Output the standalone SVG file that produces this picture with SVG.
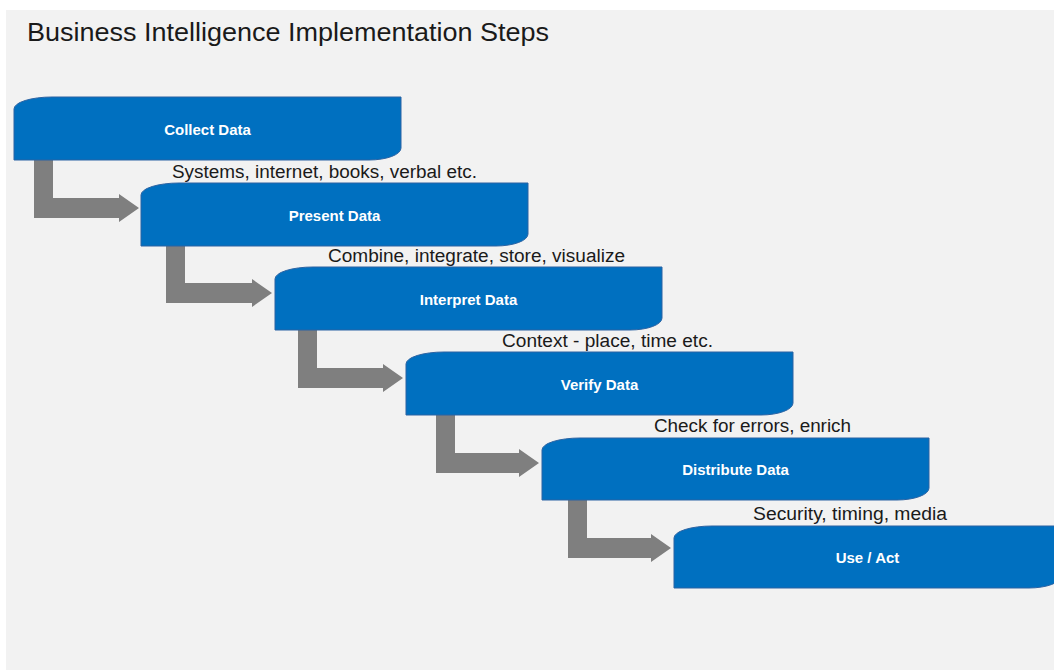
<svg xmlns="http://www.w3.org/2000/svg" width="1054" height="670" viewBox="0 0 1054 670">
  <defs>
    <style>
      .step { fill: #0070c0; stroke: #2b63a3; stroke-width: 1; }
      .step-label { font-family: "Liberation Sans", Arial, sans-serif; font-weight: bold; font-size: 15px; fill: #ffffff; text-anchor: middle; }
      .note { font-family: "Liberation Sans", Arial, sans-serif; font-size: 18px; fill: #1a1a1a; }
      .bend { fill: #7f7f7f; }
    </style>
  </defs>

  <!-- slide background -->
  <rect x="0" y="0" width="1054" height="670" fill="#ffffff"/>
  <rect x="6" y="10" width="1048" height="660" fill="#f2f2f2"/>

  <text x="27" y="41" font-family="Liberation Sans, Arial, sans-serif" font-size="26" fill="#1a1a1a" textLength="522" lengthAdjust="spacingAndGlyphs">Business Intelligence Implementation Steps</text>

  <!-- bent arrows linking consecutive steps -->
  <g id="connectors">
    <path class="bend" d="M34,158 H53 V198 H119 V194 L139,208 L119,222 V218 H34 Z"/>
    <path class="bend" d="M166,244 H185 V283 H252 V279 L272,293 L252,307 V303 H166 Z"/>
    <path class="bend" d="M298,328 H317 V368 H383 V364 L403,378 L383,392 V388 H298 Z"/>
    <path class="bend" d="M436,413 H455 V453 H519 V449 L539,463 L519,477 V473 H436 Z"/>
    <path class="bend" d="M568,498 H587 V538 H651 V534 L671,548 L651,562 V558 H568 Z"/>
  </g>

  <!-- step boxes: rounded top-left and bottom-right corners -->
  <g id="collect-data">
    <path class="step" d="M14,109 A38 12 0 0 1 52,97 H401 V148 A32 12 0 0 1 369,160 H14 Z"/>
    <text class="step-label" x="207.5" y="135">Collect Data</text>
  </g>
  <g id="present-data">
    <path class="step" d="M141,195 A38 12 0 0 1 179,183 H528 V234 A32 12 0 0 1 496,246 H141 Z"/>
    <text class="step-label" x="334.5" y="221">Present Data</text>
  </g>
  <g id="interpret-data">
    <path class="step" d="M275,279 A38 12 0 0 1 313,267 H662 V318 A32 12 0 0 1 630,330 H275 Z"/>
    <text class="step-label" x="468.5" y="305">Interpret Data</text>
  </g>
  <g id="verify-data">
    <path class="step" d="M406,364 A38 12 0 0 1 444,352 H793 V403 A32 12 0 0 1 761,415 H406 Z"/>
    <text class="step-label" x="599.5" y="390">Verify Data</text>
  </g>
  <g id="distribute-data">
    <path class="step" d="M542,450 A38 12 0 0 1 580,438 H929 V488 A32 12 0 0 1 897,500 H542 Z"/>
    <text class="step-label" x="735.5" y="475">Distribute Data</text>
  </g>
  <g id="use-act">
    <path class="step" d="M674,538 A38 12 0 0 1 712,526 H1061 V576 A32 12 0 0 1 1029,588 H674 Z"/>
    <text class="step-label" x="867.5" y="563">Use / Act</text>
  </g>

  <!-- notes between steps -->
  <g id="notes">
    <text class="note" x="172" y="178" textLength="305" lengthAdjust="spacingAndGlyphs">Systems, internet, books, verbal etc.</text>
    <text class="note" x="328" y="262" textLength="297" lengthAdjust="spacingAndGlyphs">Combine, integrate, store, visualize</text>
    <text class="note" x="502" y="347" textLength="211" lengthAdjust="spacingAndGlyphs">Context - place, time etc.</text>
    <text class="note" x="654" y="432" textLength="197" lengthAdjust="spacingAndGlyphs">Check for errors, enrich</text>
    <text class="note" x="753" y="520" textLength="194" lengthAdjust="spacingAndGlyphs">Security, timing, media</text>
  </g>
</svg>
